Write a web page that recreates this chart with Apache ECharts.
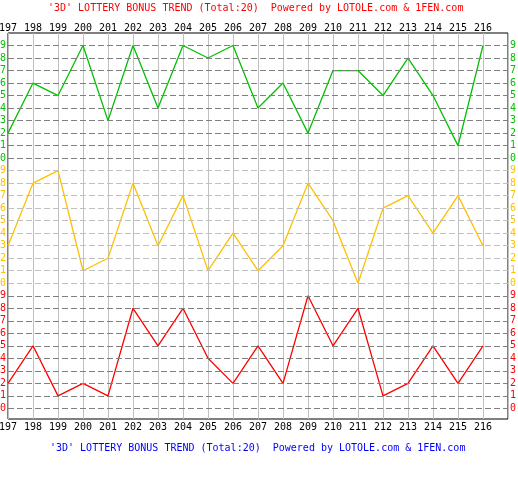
<!DOCTYPE html>
<html>
<head>
<meta charset="utf-8">
<script src="https://cdn.jsdelivr.net/npm/echarts@6/dist/echarts.min.js"></script>
<style>
html, body { margin: 0; padding: 0; background: #fff; }
#chart { width: 518px; height: 500px; }
</style>
</head>
<body>
<div id="chart"></div>
<script>
// draw numbers 197..216, one digit per position
var periods = [197, 198, 199, 200, 201, 202, 203, 204, 205, 206,
               207, 208, 209, 210, 211, 212, 213, 214, 215, 216];
var firstDigit  = [2, 6, 5, 9, 3, 9, 4, 9, 8, 9, 4, 6, 2, 7, 7, 5, 8, 5, 1, 9];
var secondDigit = [3, 8, 9, 1, 2, 8, 3, 7, 1, 4, 1, 3, 8, 5, 0, 6, 7, 4, 7, 3];
var thirdDigit  = [2, 5, 1, 2, 1, 8, 5, 8, 4, 2, 5, 2, 9, 5, 8, 1, 2, 5, 2, 5];
var digitTicks  = [0, 1, 2, 3, 4, 5, 6, 7, 8, 9];

var titleText = "'3D' LOTTERY BONUS TREND (Total:20)  Powered by LOTOLE.com & 1FEN.com";
var mono = '"DejaVu Sans Mono", "Liberation Mono", monospace';

// each digit gets its own band of 10 units, stacked bottom to top
var bandColors = ['#ff0000', '#ffc000', '#00c000'];
var gridColors = ['#808080', '#c0c0c0', '#808080'];

function toBand(values, band) {
    var out = [];
    for (var i = 0; i < values.length; i++) {
        out.push([periods[i], values[i] + band * 10]);
    }
    return out;
}

var yTicks = [];
var gridLines = [];
for (var b = 0; b < 3; b++) {
    for (var d = 0; d < digitTicks.length; d++) {
        var v = b * 10 + digitTicks[d];
        yTicks.push(v);
        gridLines.push({
            yAxis: v,
            lineStyle: { color: gridColors[b], type: [6, 3], width: 1 }
        });
    }
}

function labelColor(value) {
    return bandColors[Math.floor(Math.round(value) / 10)] || '#000';
}

var yLabel = {
    customValues: yTicks,
    formatter: function (value) { return String(Math.round(value) % 10); },
    color: labelColor,
    fontFamily: mono,
    fontSize: 10,
    margin: 2
};

var xLabel = function (margin) {
    return {
        fontFamily: mono,
        fontSize: 10,
        color: '#000',
        margin: margin,
        formatter: function (value) { return value > 216 ? '' : String(value); }
    };
};

var chart = echarts.init(document.getElementById('chart'));

var options = {
    animation: false,
    backgroundColor: '#fff',
    title: [
        {
            text: titleText,
            left: 43,
            top: -2,
            textStyle: { color: '#ff0000', fontFamily: mono, fontSize: 10, fontWeight: 'normal' }
        },
        {
            text: titleText,
            left: 45,
            top: 438,
            textStyle: { color: '#0000ff', fontFamily: mono, fontSize: 10, fontWeight: 'normal' }
        }
    ],
    grid: {
        left: 8,
        right: 10,
        top: 33,
        bottom: 81,
        show: true,
        borderColor: '#000',
        borderWidth: 1,
        outerBoundsMode: 'none',
        containLabel: false
    },
    xAxis: [
        {
            type: 'value',
            position: 'top',
            min: 197,
            max: 217,
            interval: 1,
            axisLine: { show: false },
            axisTick: { show: false },
            axisLabel: xLabel(0),
            splitLine: { show: true, lineStyle: { color: '#c0c0c0', width: 1 } }
        },
        {
            type: 'value',
            position: 'bottom',
            min: 197,
            max: 217,
            interval: 1,
            axisLine: { show: false },
            axisTick: { show: false },
            axisLabel: xLabel(3),
            splitLine: { show: false }
        }
    ],
    yAxis: [
        {
            type: 'value',
            position: 'left',
            min: -0.85,
            max: 30,
            axisLine: { show: false },
            axisTick: { show: false },
            axisLabel: yLabel,
            splitLine: { show: false }
        },
        {
            type: 'value',
            position: 'right',
            min: -0.85,
            max: 30,
            axisLine: { show: false },
            axisTick: { show: false },
            axisLabel: yLabel,
            splitLine: { show: false }
        }
    ],
    series: [
        {
            name: 'grid',
            type: 'line',
            data: [],
            z: 1,
            silent: true,
            markLine: {
                silent: true,
                symbol: ['none', 'none'],
                label: { show: false },
                data: gridLines
            }
        },
        {
            name: 'third',
            type: 'line',
            data: toBand(thirdDigit, 0),
            showSymbol: false,
            z: 3,
            lineStyle: { color: bandColors[0], width: 1.3 }
        },
        {
            name: 'second',
            type: 'line',
            data: toBand(secondDigit, 1),
            showSymbol: false,
            z: 3,
            lineStyle: { color: bandColors[1], width: 1.3 }
        },
        {
            name: 'first',
            type: 'line',
            data: toBand(firstDigit, 2),
            showSymbol: false,
            z: 3,
            lineStyle: { color: bandColors[2], width: 1.3 }
        }
    ]
};

chart.setOption(options);
</script>
</body>
</html>
